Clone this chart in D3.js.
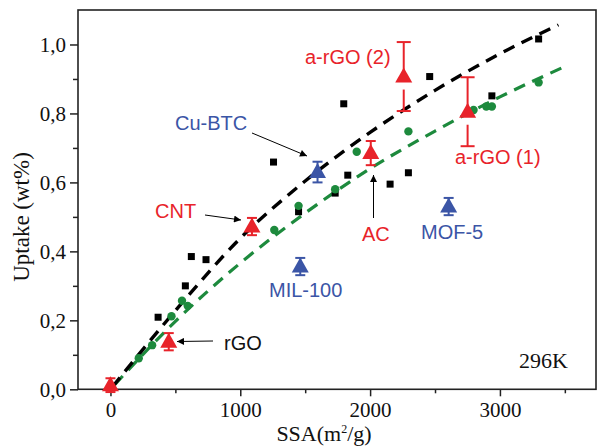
<!DOCTYPE html>
<html><head><meta charset="utf-8">
<script src="https://cdn.jsdelivr.net/npm/d3@7"></script>
<style>html,body{margin:0;padding:0;background:#fff;}svg{display:block;}</style>
</head><body>
<svg id="c" width="597" height="447"></svg>
<script>
// ---- data ----
const blackX = [367, 577, 623, 736, 1256, 1449, 1731, 1797, 1828, 2154, 2295, 2459, 2938, 3298];
const blackY = [0.209, 0.300, 0.385, 0.376, 0.659, 0.515, 0.569, 0.828, 0.621, 0.595, 0.628, 0.907, 0.851, 1.016];

const greenX = [218, 321, 470, 551, 595, 1262, 1449, 1731, 1897, 2295, 2797, 2895, 2938, 3298];
const greenY = [0.090, 0.128, 0.212, 0.257, 0.242, 0.462, 0.532, 0.580, 0.689, 0.748, 0.810, 0.820, 0.820, 0.890];

const redX = [0, 449, 1090, 2005, 2259, 2751];
const redY = [0.012, 0.138, 0.472, 0.685, 0.907, 0.805];
const redErr = [0.02, 0.025, 0.025, 0.035, 0.10, 0.10];

const blueNames = ["Cu-BTC", "MIL-100", "MOF-5"];
const blueX = [1595, 1462, 2605];
const blueY = [0.630, 0.356, 0.530];
const blueErr = [0.03, 0.025, 0.025];

const blackFitX = [0, 500, 1000, 1500, 2000, 2500, 3000, 3450];
const blackFitY = [0, 0.228, 0.438, 0.604, 0.745, 0.867, 0.973, 1.057];
const greenFitX = [0, 500, 1000, 1500, 2000, 2500, 3000, 3500];
const greenFitY = [0, 0.197, 0.366, 0.511, 0.640, 0.749, 0.848, 0.936];

const xMajor = [0, 1000, 2000, 3000];
const xMinor = [500, 1500, 2500, 3500];
const yMajor = [0, 0.2, 0.4, 0.6, 0.8, 1.0];
const yMinor = [0.1, 0.3, 0.5, 0.7, 0.9];

// ---- layout ----
const W = 597, H = 447;
const L = 78, R = 596, T = 10, B = 389.3;
const RED = "#e8232a", BLUE = "#3b55a6", GREEN = "#1d8a3d";
const serif = "'Liberation Serif','Times New Roman',serif";
const sans = "'Liberation Sans',Arial,sans-serif";

const svg = d3.select("#c");
const x = d3.scaleLinear().domain([-250, 3740]).range([L, R]);
const y = d3.scaleLinear().domain([0, 1.1]).range([B, T]);

// axes
const fmtY = d => d3.format(".1f")(d).replace(".", ",");
const xAx = svg.append("g").attr("transform", `translate(0,${B})`)
  .call(d3.axisBottom(x).tickValues(xMajor).tickSize(7).tickPadding(6).tickFormat(d3.format("d")));
svg.append("g").attr("transform", `translate(0,${B})`)
  .call(d3.axisBottom(x).tickValues(xMinor).tickSize(4).tickFormat(""));
const yAx = svg.append("g").attr("transform", `translate(${L},0)`)
  .call(d3.axisLeft(y).tickValues(yMajor).tickSize(8).tickPadding(4).tickFormat(fmtY));
svg.append("g").attr("transform", `translate(${L},0)`)
  .call(d3.axisLeft(y).tickValues(yMinor).tickSize(5).tickFormat(""));
svg.selectAll(".domain").remove();
svg.selectAll(".tick line").attr("stroke", "#222").attr("stroke-width", 1.5);
svg.selectAll(".tick text").attr("font-family", serif).attr("font-size", 21).attr("fill", "#111");
xAx.selectAll(".tick text").attr("dy", "0.72em");

// frame
svg.append("rect").attr("x", L).attr("y", T).attr("width", R - L).attr("height", B - T)
  .attr("fill", "none").attr("stroke", "#222").attr("stroke-width", 1.6);

// axis titles
const xt = svg.append("text").attr("x", 324).attr("y", 441).attr("text-anchor", "middle")
  .attr("font-family", serif).attr("font-size", 22).attr("fill", "#111");
xt.append("tspan").text("SSA(m");
xt.append("tspan").attr("font-size", 12).attr("dy", -8).text("2");
xt.append("tspan").attr("dy", 8).text("/g)");
svg.append("text").attr("transform", `translate(29,217) rotate(-90)`).attr("text-anchor", "middle")
  .attr("font-family", serif).attr("font-size", 23).attr("fill", "#111").text("Uptake (wt%)");

// fit lines
const line = d3.line().x(d => x(d[0])).y(d => y(d[1])).curve(d3.curveMonotoneX);
svg.append("path").datum(greenFitX.map((v, i) => [v, greenFitY[i]]))
  .attr("d", line).attr("fill", "none").attr("stroke", GREEN).attr("stroke-width", 3.2)
  .attr("stroke-dasharray", "12,8").attr("stroke-dashoffset", -6);
svg.append("path").datum(blackFitX.map((v, i) => [v, blackFitY[i]]))
  .attr("d", line).attr("fill", "none").attr("stroke", "#000").attr("stroke-width", 3.4)
  .attr("stroke-dasharray", "12,8").attr("stroke-dashoffset", -3);

// black squares
svg.append("g").selectAll("rect").data(blackX).join("rect")
  .attr("x", (d, i) => x(d) - 3.5).attr("y", (d, i) => y(blackY[i]) - 3.5)
  .attr("width", 7).attr("height", 7).attr("fill", "#000");

// green circles
svg.append("g").selectAll("circle").data(greenX).join("circle")
  .attr("cx", d => x(d)).attr("cy", (d, i) => y(greenY[i])).attr("r", 4.2).attr("fill", GREEN);

// triangles with error bars
function tri(g, cx, cy, col) {
  g.append("path").attr("d", `M${cx},${cy - 9}L${cx + 8.5},${cy + 6}L${cx - 8.5},${cy + 6}Z`).attr("fill", col);
}
function errbar(g, cx, v, e, col, big) {
  const cy = y(v), t = y(v + e), b = y(v - e);
  const w = big ? 7 : 5;
  g.append("line").attr("x1", cx).attr("x2", cx).attr("y1", t).attr("y2", big ? cy : b)
    .attr("stroke", col).attr("stroke-width", 2);
  if (big) g.append("line").attr("x1", cx).attr("x2", cx).attr("y1", cy + 13).attr("y2", b)
    .attr("stroke", col).attr("stroke-width", 2);
  [t, b].forEach(yy => g.append("line").attr("x1", cx - w).attr("x2", cx + w).attr("y1", yy).attr("y2", yy)
    .attr("stroke", col).attr("stroke-width", 2));
}
const gm = svg.append("g");
redX.forEach((v, i) => {
  const big = redErr[i] > 0.05;
  errbar(gm, x(v), redY[i], redErr[i], RED, big);
  tri(gm, x(v), y(redY[i]), RED);
});
blueX.forEach((v, i) => {
  errbar(gm, x(v), blueY[i], blueErr[i], BLUE, false);
  tri(gm, x(v), y(blueY[i]), BLUE);
});

// arrows
const defs = svg.append("defs");
defs.append("marker").attr("id", "ah").attr("viewBox", "0 0 10 10").attr("refX", 10).attr("refY", 5)
  .attr("markerWidth", 9).attr("markerHeight", 7).attr("markerUnits", "userSpaceOnUse").attr("orient", "auto")
  .append("path").attr("d", "M0,0L10,5L0,10Z").attr("fill", "#000");
const arrows = [[252, 133, 307, 156], [205, 215, 241, 220], [373.5, 218, 373.5, 175], [213, 341, 177, 341.5]];
arrows.forEach(a => svg.append("line").attr("x1", a[0]).attr("y1", a[1]).attr("x2", a[2]).attr("y2", a[3])
  .attr("stroke", "#000").attr("stroke-width", 1).attr("marker-end", "url(#ah)"));

// labels
const labels = [
  ["a-rGO (2)", 305, 64, RED], ["a-rGO (1)", 455, 164, RED], ["Cu-BTC", 175, 130, BLUE],
  ["CNT", 155, 218, RED], ["AC", 362, 241, RED], ["MOF-5", 421, 239, BLUE],
  ["MIL-100", 269, 297, BLUE], ["rGO", 224, 350, "#111"]
];
labels.forEach(l => svg.append("text").attr("x", l[1]).attr("y", l[2]).attr("font-family", sans)
  .attr("font-size", 20).attr("fill", l[3]).text(l[0]));
svg.append("text").attr("x", 519).attr("y", 368).attr("font-family", serif).attr("font-size", 22)
  .attr("fill", "#111").text("296K");
</script>
</body></html>
